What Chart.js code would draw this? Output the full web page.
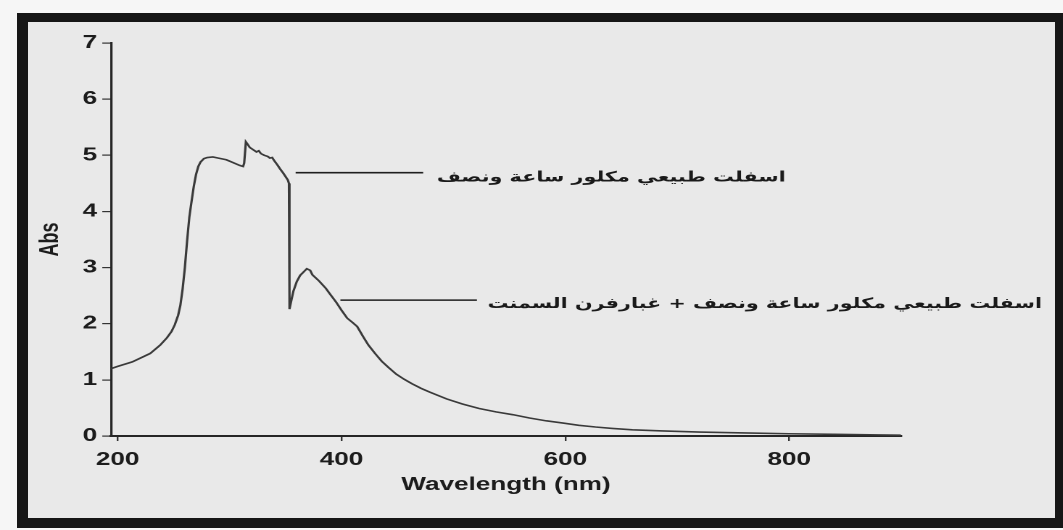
<!DOCTYPE html>
<html>
<head>
<meta charset="utf-8">
<script src="https://cdn.jsdelivr.net/npm/chart.js@4.4.1/dist/chart.umd.min.js"></script>
<style>
  html, body { margin: 0; padding: 0; }
  body { width: 1063px; height: 530px; background: #f6f6f6; position: relative; overflow: hidden; }
  #frame {
    position: absolute; left: 17px; top: 13px; width: 1046px; height: 515px;
    box-sizing: border-box; background: #e9e9e9;
    border-style: solid; border-color: #161616;
    border-width: 9px 8px 10px 11px;
  }
  /* the figure is printed with a wide horizontal stretch */
  #stage {
    position: absolute; left: 0; top: 0; width: 733.1px; height: 530px;
    transform: scaleX(1.45); transform-origin: 0 0;
  }
</style>
</head>
<body>
<div id="frame"></div>
<div id="stage"><canvas id="chart"></canvas></div>
<script>
// UV-Vis absorbance spectrum
const wavelengthNm = [194, 200, 213, 229, 238, 244, 248, 251, 254, 256, 258, 260, 262, 264, 266, 268, 270, 272, 274, 277, 280, 285, 290, 297, 303, 309, 312, 313, 314.5, 316, 318, 321, 324, 326, 328, 331, 334, 336, 338, 340, 343, 345, 348, 350, 352, 353, 353.5, 355, 357, 360, 363, 366, 369, 372, 374, 380, 386, 390, 395, 400, 405, 410, 414, 419, 424, 430, 436, 442, 449, 456, 463, 471, 479, 494, 508, 523, 538, 553, 568, 583, 598, 612, 627, 642, 660, 687, 720, 760, 800, 840, 880, 900];
const absorbance = [1.20, 1.24, 1.32, 1.47, 1.62, 1.75, 1.86, 1.98, 2.15, 2.33, 2.62, 3.00, 3.48, 3.90, 4.18, 4.45, 4.66, 4.80, 4.88, 4.94, 4.96, 4.97, 4.95, 4.92, 4.87, 4.82, 4.80, 4.86, 5.24, 5.20, 5.14, 5.10, 5.06, 5.08, 5.03, 5.00, 4.98, 4.95, 4.96, 4.90, 4.82, 4.76, 4.68, 4.62, 4.56, 4.50, 2.26, 2.40, 2.58, 2.75, 2.86, 2.92, 2.98, 2.95, 2.87, 2.76, 2.63, 2.52, 2.39, 2.24, 2.10, 2.02, 1.95, 1.78, 1.62, 1.47, 1.33, 1.22, 1.10, 1.01, 0.93, 0.85, 0.78, 0.66, 0.57, 0.49, 0.43, 0.38, 0.32, 0.27, 0.23, 0.19, 0.16, 0.135, 0.11, 0.09, 0.07, 0.055, 0.04, 0.03, 0.02, 0.015];
const xTickValues = [200, 400, 600, 800];
const yTickValues = [0, 1, 2, 3, 4, 5, 6, 7];
const sampleLabels = [
  'اسفلت طبيعي مكلور ساعة ونصف',
  'اسفلت طبيعي مكلور ساعة ونصف + غبارفرن السمنت'
];

const STRETCH = 1.45;
const tickFont = { family: "'Liberation Sans', Arial, sans-serif", size: 18, weight: 'bold' };

// leader lines and their Arabic captions, placed in data units
const calloutPlugin = {
  id: 'callouts',
  afterDatasetsDraw(chart, args, opts) {
    const { ctx, scales: { x, y } } = chart;
    ctx.save();
    ctx.strokeStyle = '#1e1e1e';
    ctx.lineWidth = 1.6;
    ctx.fillStyle = '#1a1a1a';
    // common font size fitted to the longer caption
    const fam = "'DejaVu Sans', sans-serif";
    ctx.font = 'bold 16px ' + fam;
    const longest = opts.items[1];
    const wantW = x.getPixelForValue(longest.textEnd) - x.getPixelForValue(longest.textStart);
    const size = 16 * wantW / ctx.measureText(longest.text).width;
    ctx.font = 'bold ' + size.toFixed(2) + 'px ' + fam;
    ctx.direction = 'rtl';
    ctx.textAlign = 'right';
    ctx.textBaseline = 'middle';
    for (const it of opts.items) {
      const yl = y.getPixelForValue(it.lineAbs);
      ctx.beginPath();
      ctx.moveTo(x.getPixelForValue(it.lineFrom), yl);
      ctx.lineTo(x.getPixelForValue(it.lineTo), yl);
      ctx.stroke();
      ctx.fillText(it.text, x.getPixelForValue(it.textEnd), y.getPixelForValue(it.textAbs));
    }
    ctx.restore();
  }
};

new Chart(document.getElementById('chart'), {
  type: 'line',
  data: {
    datasets: [{
      data: wavelengthNm.map((w, i) => ({ x: w, y: absorbance[i] })),
      borderColor: '#3a3a3a',
      borderWidth: 1.6,
      pointRadius: 0,
      tension: 0,
      fill: false
    }]
  },
  options: {
    responsive: true,
    maintainAspectRatio: false,
    animation: false,
    devicePixelRatio: 2,
    layout: { padding: { left: 0, right: 733.1 - 901 / STRETCH, top: 43, bottom: 34 } },
    plugins: {
      legend: { display: false },
      tooltip: { enabled: false },
      callouts: {
        items: [
          { text: sampleLabels[0], lineFrom: 359, lineTo: 473, lineAbs: 4.69, textStart: 480, textEnd: 797, textAbs: 4.60 },
          { text: sampleLabels[1], lineFrom: 399, lineTo: 521, lineAbs: 2.42, textStart: 530, textEnd: 1026, textAbs: 2.35 }
        ]
      }
    },
    scales: {
      x: {
        type: 'linear',
        min: 194,
        max: 900,
        afterBuildTicks: (s) => { s.ticks = xTickValues.map(v => ({ value: v })); },
        afterFit: (s) => { s.height = 60; },
        border: { display: true, color: '#262626', width: 2 },
        grid: { drawOnChartArea: false, drawTicks: true, tickLength: 5, color: '#333', lineWidth: 1.2 },
        ticks: { font: tickFont, color: '#1c1c1c', padding: 8, maxRotation: 0 },
        title: { display: true, text: 'Wavelength (nm)', font: tickFont, color: '#1c1c1c', padding: { top: 0, bottom: 0 } }
      },
      y: {
        min: 0,
        max: 7,
        afterBuildTicks: (s) => { s.ticks = yTickValues.map(v => ({ value: v })); },
        afterFit: (s) => { s.width = 111 / STRETCH; },
        border: { display: true, color: '#262626', width: 1.6 },
        grid: { drawOnChartArea: false, drawTicks: true, tickLength: 6, color: '#333', lineWidth: 1.2 },
        ticks: { font: tickFont, color: '#1c1c1c', padding: 3.5 },
        title: { display: true, text: 'Abs', font: tickFont, color: '#1c1c1c', padding: { top: 24, bottom: 0 } }
      }
    }
  },
  plugins: [calloutPlugin]
});
</script>
</body>
</html>
